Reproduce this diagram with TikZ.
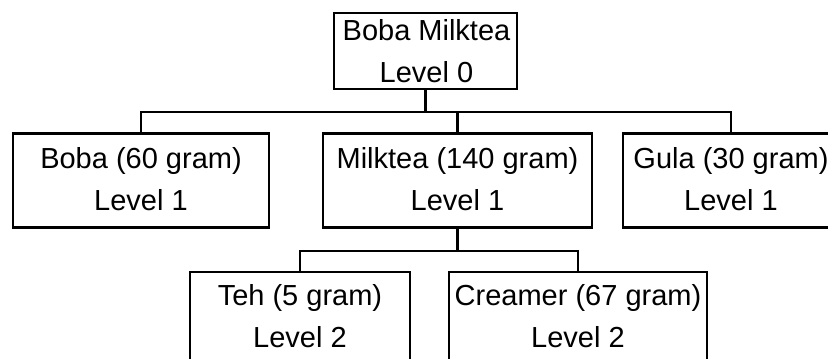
\documentclass[tikz,border=0pt]{standalone}
\usepackage{fontspec}
\setmainfont{Liberation Sans}
\begin{document}
\begin{tikzpicture}[x=1pt,y=-1pt,
  box/.style={draw=black,line width=2.4pt,rectangle,inner sep=0pt},
  lbl/.style={anchor=base,inner sep=0pt,font=\fontsize{29}{42}\selectfont},
  link/.style={draw=black,line width=2.4pt}]
\useasboundingbox (0,0) rectangle (828,359);
\clip (0,0) rectangle (828,359);

% boxes
\node[box,minimum width=183pt,minimum height=76pt] (root)  at (425.5,51) {};
\node[box,minimum width=256pt,minimum height=94pt] (boba)  at (141,180.5) {};
\node[box,minimum width=269pt,minimum height=94pt] (milk)  at (457.5,180.5) {};
\node[box,minimum width=216pt,minimum height=94pt] (gula)  at (731,180.5) {};
\node[box,minimum width=220pt,minimum height=94pt] (teh)   at (300,319) {};
\node[box,minimum width=258pt,minimum height=94pt] (cream) at (578,319) {};

% labels
\node[lbl] (rootA)  at (426.5,40)  {Boba Milktea};
\node[lbl] (rootB)  at (426.5,82)  {Level 0};
\node[lbl] (bobaA)  at (141,168)   {Boba (60 gram)};
\node[lbl] (bobaB)  at (141,210)   {Level 1};
\node[lbl] (milkA)  at (457.5,168) {Milktea (140 gram)};
\node[lbl] (milkB)  at (457.5,210) {Level 1};
\node[lbl] (gulaA)  at (731,168)   {Gula (30 gram)};
\node[lbl] (gulaB)  at (731,210)   {Level 1};
\node[lbl] (tehA)   at (300,305)   {Teh (5 gram)};
\node[lbl] (tehB)   at (300,347)   {Level 2};
\node[lbl] (creamA) at (578,305)   {Creamer (67 gram)};
\node[lbl] (creamB) at (578,347)   {Level 2};

% connectors
\coordinate (busA) at (425.5,112);
\coordinate (busB) at (457.5,251);
\draw[link] (root.south) -- (busA);
\draw[link] (boba.north) |- (busA);
\draw[link] (gula.north) |- (busA);
\draw[link] (milk.north) -- (milk.north |- busA);
\draw[link] (milk.south) -- (busB);
\draw[link] (teh.north) |- (busB);
\draw[link] (cream.north) |- (busB);
\end{tikzpicture}
\end{document}
